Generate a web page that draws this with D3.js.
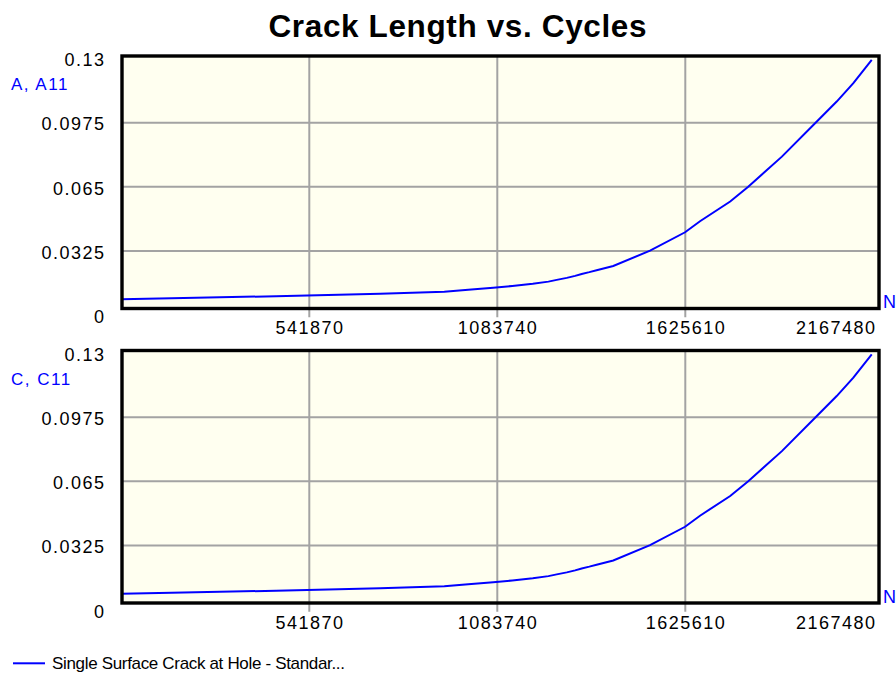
<!DOCTYPE html>
<html>
<head>
<meta charset="utf-8">
<script src="https://cdn.jsdelivr.net/npm/d3@7"></script>
<style>
  html, body { margin: 0; padding: 0; background: #ffffff; }
  svg { display: block; font-family: Arial, "Liberation Sans", sans-serif; }
</style>
</head>
<body>
<svg id="chart" width="896" height="677"></svg>
<script>
// Crack growth history: cycles N against crack lengths at the A and C tips
const cycles = [0, 145000, 446000, 746000, 931000, 1000000, 1072000, 1127000, 1186000,
  1231000, 1255000, 1284000, 1308000, 1327000, 1349000, 1370000, 1418000, 1524000,
  1625000, 1668000, 1755000, 1807000, 1904000, 2004000, 2062000, 2110000, 2163000];
const aLength = [0.0081, 0.0086, 0.0096, 0.0108, 0.0119, 0.0129, 0.0139, 0.0148, 0.0159,
  0.0170, 0.0179, 0.0189, 0.0199, 0.0209, 0.0218, 0.0228, 0.0249, 0.0327,
  0.0420, 0.0476, 0.0576, 0.0651, 0.0803, 0.0980, 0.1082, 0.1175, 0.1293];
const cLength = [0.0081, 0.0086, 0.0096, 0.0108, 0.0119, 0.0129, 0.0139, 0.0148, 0.0159,
  0.0170, 0.0179, 0.0189, 0.0199, 0.0209, 0.0218, 0.0228, 0.0249, 0.0327,
  0.0420, 0.0476, 0.0576, 0.0651, 0.0803, 0.0980, 0.1082, 0.1175, 0.1293];

const xTicks = [541870, 1083740, 1625610, 2167480];
const yTicks = [0, 0.0325, 0.065, 0.0975, 0.13];
const yTickLabels = ["0", "0.0325", "0.065", "0.0975", "0.13"];
const panelLabels = ["A, A11", "C, C11"];
const title = "Crack Length vs. Cycles";
const xAxisName = "N";
const legendName = "Single Surface Crack at Hole - Standar...";

const panels = [
  { label: panelLabels[0], values: aLength },
  { label: panelLabels[1], values: cLength }
];

const svg = d3.select("#chart");
const tickFont = 18, tickSpacing = 1.5;
const blue = "#0000ff";
const gridColor = "#a3a3a3";
const plotFill = "#fffff0";

const x = d3.scaleLinear().domain([0, xTicks[xTicks.length - 1]]).range([121.3, 873.3]);
const frameLeft = 122, frameRight = 879;
const panelStep = 294.5;

svg.append("text")
  .attr("x", 457.5).attr("y", 37)
  .attr("text-anchor", "middle")
  .attr("font-size", 31.5).attr("font-weight", "bold")
  .attr("textLength", 378).attr("lengthAdjust", "spacing")
  .attr("fill", "#000")
  .text(title);

panels.forEach((p, i) => {
  const off = i * panelStep;
  const y = d3.scaleLinear().domain([0, 0.13]).range([315.2 + off, 58.5 + off]);
  const frameTop = 56 + off, frameBottom = 308.5 + off;
  const g = svg.append("g");

  g.append("rect")
    .attr("x", frameLeft).attr("y", frameTop)
    .attr("width", frameRight - frameLeft).attr("height", frameBottom - frameTop)
    .attr("fill", plotFill);

  // horizontal grid
  g.selectAll(".hgrid").data(yTicks.filter(v => v > 0 && v < 0.13)).join("line")
    .attr("x1", frameLeft).attr("x2", frameRight)
    .attr("y1", d => y(d)).attr("y2", d => y(d))
    .attr("stroke", gridColor).attr("stroke-width", 2);

  // vertical grid, extended below the frame as tick marks
  g.selectAll(".vgrid").data(xTicks.slice(0, -1)).join("line")
    .attr("x1", d => x(d)).attr("x2", d => x(d))
    .attr("y1", frameTop).attr("y2", y(0) + 2)
    .attr("stroke", gridColor).attr("stroke-width", 2);

  const line = d3.line().x((d, k) => x(cycles[k])).y(d => y(d));
  g.append("path")
    .datum(p.values)
    .attr("d", line)
    .attr("fill", "none")
    .attr("stroke", blue).attr("stroke-width", 2);

  g.append("rect")
    .attr("x", frameLeft).attr("y", frameTop)
    .attr("width", frameRight - frameLeft).attr("height", frameBottom - frameTop)
    .attr("fill", "none").attr("stroke", "#000").attr("stroke-width", 3.4);

  // y tick labels
  g.selectAll(".ylab").data(yTicks).join("text")
    .attr("x", 104 + tickSpacing).attr("y", d => y(d) + 1.5)
    .attr("dy", "0.35em")
    .attr("text-anchor", "end")
    .attr("font-size", tickFont).attr("letter-spacing", tickSpacing)
    .attr("fill", "#000")
    .text((d, k) => yTickLabels[k]);

  // x tick labels; the last one is kept inside the frame
  g.selectAll(".xlab").data(xTicks).join("text")
    .attr("x", (d, k) => k === xTicks.length - 1 ? 875 + tickSpacing : x(d) + tickSpacing / 2)
    .attr("y", y(0) + 19)
    .attr("text-anchor", (d, k) => k === xTicks.length - 1 ? "end" : "middle")
    .attr("font-size", tickFont).attr("letter-spacing", tickSpacing)
    .attr("fill", "#000")
    .text(d => String(d));

  g.append("text")
    .attr("x", 11).attr("y", 84.3 + off).attr("dy", "0.35em")
    .attr("font-size", 17).attr("letter-spacing", 1.5)
    .attr("fill", blue)
    .text(p.label);

  g.append("text")
    .attr("x", 883).attr("y", y(0) - 13.5).attr("dy", "0.35em")
    .attr("font-size", 18)
    .attr("fill", blue)
    .text(xAxisName);
});

// legend
svg.append("line")
  .attr("x1", 13).attr("x2", 45).attr("y1", 663.3).attr("y2", 663.3)
  .attr("stroke", blue).attr("stroke-width", 2);
svg.append("text")
  .attr("x", 52).attr("y", 663.3).attr("dy", "0.35em")
  .attr("font-size", 17)
  .attr("textLength", 293).attr("lengthAdjust", "spacing")
  .attr("fill", "#000")
  .text(legendName);
</script>
</body>
</html>
